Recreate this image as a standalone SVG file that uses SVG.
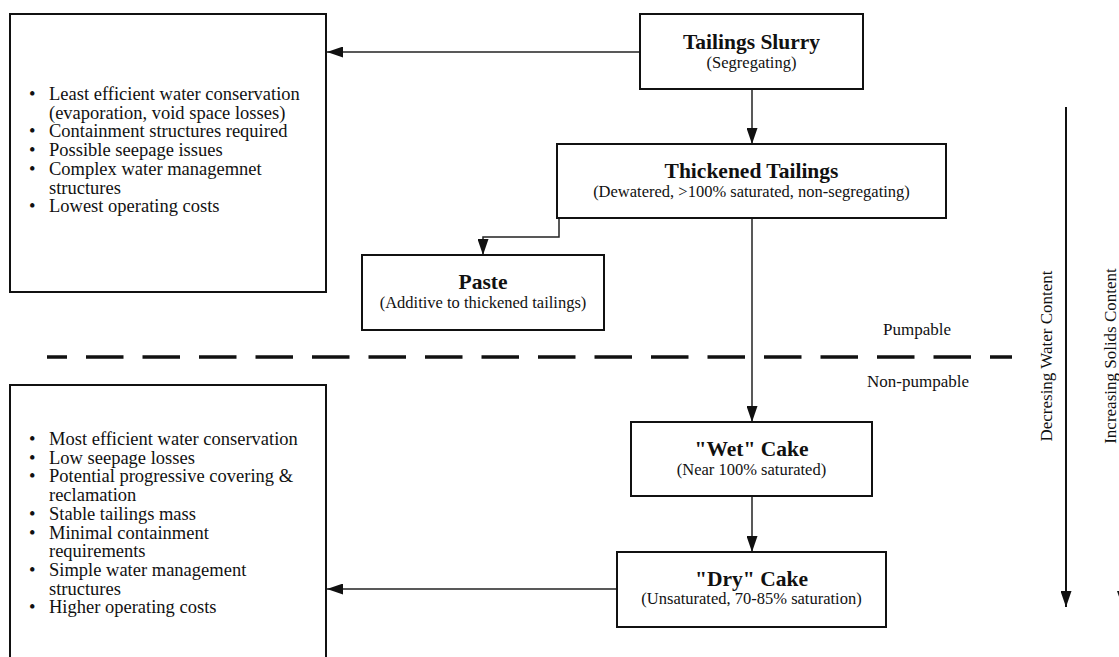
<svg xmlns="http://www.w3.org/2000/svg" width="1119" height="657" viewBox="0 0 1119 657">
<defs>
<marker id="ah" markerWidth="16" markerHeight="11" refX="16" refY="5.5" orient="auto" markerUnits="userSpaceOnUse"><path d="M0,0 L16,5.5 L0,11 Z" fill="#111"/></marker>
</defs>
<style>
.box{fill:#fff;stroke:#111;stroke-width:2}
.conn{fill:none;stroke:#222;stroke-width:1.5}
.axis{fill:none;stroke:#111;stroke-width:2}
.t{font-family:'Liberation Serif',serif;fill:#111}
.title{font-size:21.5px;font-weight:bold;text-anchor:middle}
.sub{font-size:16.5px;text-anchor:middle}
.li{font-size:18.5px}
.lab{font-size:17px;text-anchor:middle}
</style>
<rect width="1119" height="657" fill="#fff"/>
<g id="connectors">
<line class="conn" x1="640" y1="52" x2="327" y2="52" marker-end="url(#ah)"/>
<line class="conn" x1="752" y1="89" x2="752" y2="144" marker-end="url(#ah)"/>
<path class="conn" d="M559,218 V237 H483 V255" marker-end="url(#ah)"/>
<line class="conn" x1="752" y1="218" x2="752" y2="422" marker-end="url(#ah)"/>
<line class="conn" x1="752" y1="496" x2="752" y2="552" marker-end="url(#ah)"/>
<line class="conn" x1="617" y1="589" x2="327" y2="589" marker-end="url(#ah)"/>
</g>
<g id="divider">
<line x1="47" y1="357" x2="1012" y2="357" stroke="#111" stroke-width="3.5" stroke-dasharray="37.5 19" stroke-dashoffset="17.5"/>
<text class="t lab" x="917" y="335">Pumpable</text>
<text class="t lab" x="918" y="387">Non-pumpable</text>
</g>
<g id="water-axis">
<line class="axis" x1="1066" y1="107" x2="1066" y2="607" marker-end="url(#ah)"/>
<text class="t lab" transform="translate(1052,356) rotate(-90)">Decresing Water Content</text>
</g>
<g id="solids-axis">
<line class="axis" x1="1122.5" y1="107" x2="1122.5" y2="607" marker-end="url(#ah)"/>
<text class="t lab" transform="translate(1116,356) rotate(-90)">Increasing Solids Content</text>
</g>
<g id="pumpable-notes">
<rect class="box" x="10" y="14" width="316" height="278"/>
<text class="t li">
<tspan x="29" y="100">•</tspan><tspan x="49" y="100">Least efficient water conservation</tspan>
<tspan x="49" y="118.7">(evaporation, void space losses)</tspan>
<tspan x="29" y="137.4">•</tspan><tspan x="49" y="137.4">Containment structures required</tspan>
<tspan x="29" y="156.1">•</tspan><tspan x="49" y="156.1">Possible seepage issues</tspan>
<tspan x="29" y="174.8">•</tspan><tspan x="49" y="174.8">Complex water managemnet</tspan>
<tspan x="49" y="193.5">structures</tspan>
<tspan x="29" y="212.2">•</tspan><tspan x="49" y="212.2">Lowest operating costs</tspan>
</text>
</g>
<g id="nonpumpable-notes">
<rect class="box" x="10" y="385" width="316" height="300"/>
<text class="t li">
<tspan x="29" y="445">•</tspan><tspan x="49" y="445">Most efficient water conservation</tspan>
<tspan x="29" y="463.7">•</tspan><tspan x="49" y="463.7">Low seepage losses</tspan>
<tspan x="29" y="482.4">•</tspan><tspan x="49" y="482.4">Potential progressive covering &amp;</tspan>
<tspan x="49" y="501.1">reclamation</tspan>
<tspan x="29" y="519.8">•</tspan><tspan x="49" y="519.8">Stable tailings mass</tspan>
<tspan x="29" y="538.5">•</tspan><tspan x="49" y="538.5">Minimal containment</tspan>
<tspan x="49" y="557.2">requirements</tspan>
<tspan x="29" y="575.9">•</tspan><tspan x="49" y="575.9">Simple water management</tspan>
<tspan x="49" y="594.6">structures</tspan>
<tspan x="29" y="613.3">•</tspan><tspan x="49" y="613.3">Higher operating costs</tspan>
</text>
</g>
<g id="tailings-slurry">
<rect class="box" x="640" y="14" width="223" height="75"/>
<text class="t title" x="751.5" y="49">Tailings Slurry</text>
<text class="t sub" x="751.5" y="68">(Segregating)</text>
</g>
<g id="thickened-tailings">
<rect class="box" x="557" y="144" width="389" height="74"/>
<text class="t title" x="751.5" y="178">Thickened Tailings</text>
<text class="t sub" x="751.5" y="197">(Dewatered, &gt;100% saturated, non-segregating)</text>
</g>
<g id="paste">
<rect class="box" x="362" y="255" width="242" height="75"/>
<text class="t title" x="483" y="289">Paste</text>
<text class="t sub" x="483" y="308">(Additive to thickened tailings)</text>
</g>
<g id="wet-cake">
<rect class="box" x="631" y="422" width="241" height="74"/>
<text class="t title" x="751.5" y="456">"Wet" Cake</text>
<text class="t sub" x="751.5" y="475">(Near 100% saturated)</text>
</g>
<g id="dry-cake">
<rect class="box" x="617" y="552" width="269" height="75"/>
<text class="t title" x="751.5" y="586">"Dry" Cake</text>
<text class="t sub" x="751.5" y="604">(Unsaturated, 70-85% saturation)</text>
</g>
</svg>
